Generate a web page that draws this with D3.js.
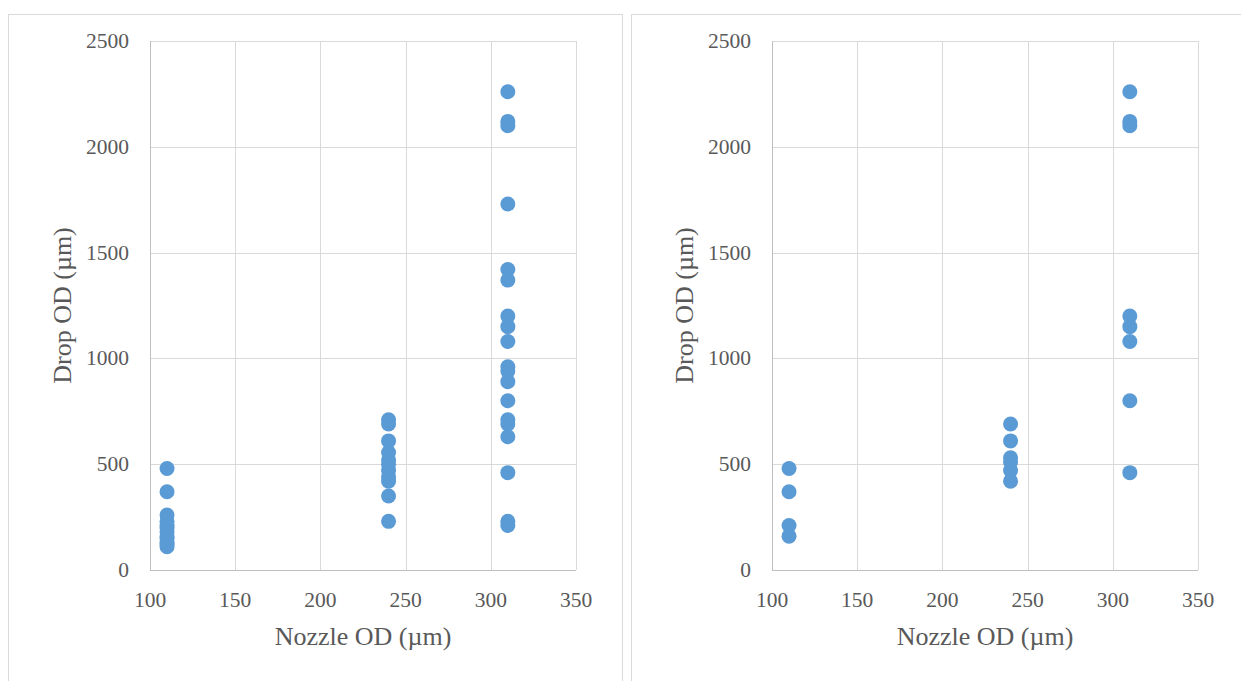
<!DOCTYPE html>
<html>
<head>
<meta charset="utf-8">
<script src="https://cdn.jsdelivr.net/npm/d3@7"></script>
<style>
  body { margin: 0; background: #fff; }
  svg { display: block; }
  text { font-family: "Liberation Serif", "Times New Roman", serif; fill: #595959; }
</style>
</head>
<body>
<svg id="canvas" width="1241" height="681"></svg>
<script>
// nozzle outer diameters (µm)
var nozzleA = [110, 110, 110, 110, 110, 110, 110, 110, 110, 110, 110, 110,
               240, 240, 240, 240, 240, 240, 240, 240, 240, 240, 240,
               310, 310, 310, 310, 310, 310, 310, 310, 310, 310, 310, 310, 310, 310, 310, 310, 310, 310, 310];
// drop outer diameters (µm), left chart
var dropA = [480, 370, 260, 230, 210, 200, 180, 160, 150, 130, 120, 110,
             710, 690, 610, 555, 520, 500, 470, 440, 420, 350, 230,
             2260, 2120, 2100, 1730, 1420, 1370, 1200, 1150, 1080, 960, 940, 890, 800, 710, 690, 630, 460, 230, 210];

var nozzleB = [110, 110, 110, 110,
               240, 240, 240, 240, 240, 240,
               310, 310, 310, 310, 310, 310, 310, 310];
// right chart
var dropB = [480, 370, 210, 160,
             690, 610, 530, 510, 470, 420,
             2260, 2120, 2100, 1200, 1150, 1080, 800, 460];

var xTicks = [100, 150, 200, 250, 300, 350];
var yTicks = [0, 500, 1000, 1500, 2000, 2500];

var svg = d3.select('#canvas');

function panel(ox, pw, nozzle, drop, plotLeft) {
    var g = svg.append('g');
    // frame
    g.append('rect')
        .attr('x', ox + 0.5).attr('y', 14.5)
        .attr('width', pw).attr('height', 700)
        .attr('fill', 'none').attr('stroke', '#d9d9d9');

    var x = d3.scaleLinear().domain([100, 350]).range([plotLeft, plotLeft + 426]);
    var y = d3.scaleLinear().domain([0, 2500]).range([570, 41]);

    // grid
    g.selectAll('.gx').data(xTicks).enter().append('line')
        .attr('x1', function(d) { return Math.round(x(d)) + 0.5; })
        .attr('x2', function(d) { return Math.round(x(d)) + 0.5; })
        .attr('y1', y(2500)).attr('y2', y(0))
        .attr('stroke', '#d9d9d9');
    g.selectAll('.gy').data(yTicks).enter().append('line')
        .attr('x1', x(100)).attr('x2', x(350))
        .attr('y1', function(d) { return Math.round(y(d)) + 0.5; })
        .attr('y2', function(d) { return Math.round(y(d)) + 0.5; })
        .attr('stroke', '#d9d9d9');
    // axis lines
    g.append('line').attr('x1', Math.round(x(100)) + 0.5).attr('x2', Math.round(x(100)) + 0.5)
        .attr('y1', y(2500)).attr('y2', y(0)).attr('stroke', '#bfbfbf');
    g.append('line').attr('x1', x(100)).attr('x2', x(350))
        .attr('y1', Math.round(y(0)) + 0.5).attr('y2', Math.round(y(0)) + 0.5).attr('stroke', '#bfbfbf');

    // tick labels
    g.selectAll('.tx').data(xTicks).enter().append('text')
        .attr('x', function(d) { return x(d); })
        .attr('y', 607)
        .attr('text-anchor', 'middle')
        .style('font-size', '21.5px')
        .text(function(d) { return d; });
    g.selectAll('.ty').data(yTicks).enter().append('text')
        .attr('x', x(100) - 21)
        .attr('y', function(d) { return y(d) + 7; })
        .attr('text-anchor', 'end')
        .style('font-size', '21.5px')
        .text(function(d) { return d; });

    // titles
    g.append('text')
        .attr('x', (x(100) + x(350)) / 2)
        .attr('y', 645)
        .attr('text-anchor', 'middle')
        .style('font-size', '26px')
        .text('Nozzle OD (\u00b5m)');
    g.append('text')
        .attr('transform', 'translate(' + (x(100) - 79) + ',' + ((y(0) + y(2500)) / 2) + ') rotate(-90)')
        .attr('text-anchor', 'middle')
        .style('font-size', '26px')
        .text('Drop OD (\u00b5m)');

    // points
    var pts = nozzle.map(function(n, i) { return { n: n, d: drop[i] }; });
    g.selectAll('circle').data(pts).enter().append('circle')
        .attr('cx', function(d) { return x(d.n); })
        .attr('cy', function(d) { return y(d.d); })
        .attr('r', 7.5)
        .attr('fill', '#5b9bd5');
}

panel(8, 614, nozzleA, dropA, 150);
panel(631, 620, nozzleB, dropB, 772);
</script>
</body>
</html>
